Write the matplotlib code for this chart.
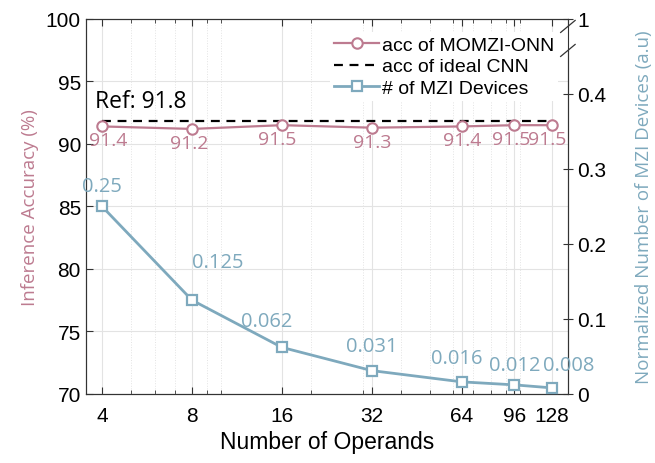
import matplotlib
matplotlib.use("Agg")
import matplotlib.pyplot as plt
import numpy as np

plt.rcParams['font.family'] = ['Liberation Sans', 'DejaVu Sans']

# data
operands = [4, 8, 16, 32, 64, 96, 128]
acc_momzi = [91.4, 91.2, 91.5, 91.3, 91.4, 91.5, 91.5]
acc_ref = 91.8
mzi_devices = [0.25, 0.125, 0.062, 0.031, 0.016, 0.012, 0.008]
mzi_labels = ['0.25', '0.125', '0.062', '0.031', '0.016', '0.012', '0.008']

pink = '#bd7b90'
blue = '#7ea9bd'
lab_font = 'Open Sans'

fig = plt.figure(figsize=(6.55, 4.64), dpi=100)
ax = fig.add_axes([0.131, 0.149, 0.736, 0.808])
ax2 = ax.twinx()

ax.set_xscale('log', base=2)
ax.set_xlim(3.53, 145)
ax.set_ylim(70, 100)
ax2.set_ylim(0, 0.5)

ax.set_xticks(operands)
ax.set_xticklabels([str(o) for o in operands])
ax.set_xticks([5, 6, 7, 9, 10, 20, 30, 40, 50, 60, 70, 80, 90, 100], minor=True)
ax.xaxis.set_minor_formatter(matplotlib.ticker.NullFormatter())
ax.set_yticks(np.arange(70, 101, 5))
ax2.set_yticks([0, 0.1, 0.2, 0.3, 0.4, 0.5])
ax2.set_yticklabels(['0', '0.1', '0.2', '0.3', '0.4', '1'])

ax.grid(True, which='major', color='#e3e3e3', lw=0.8)
ax.grid(True, which='minor', axis='x', color='#e3e3e3', lw=0.7, ls=':')
ax.set_axisbelow(True)

ax.tick_params(which='both', direction='in', top=True, labelsize=15, color='#333333')
ax.tick_params(which='major', length=5)
ax.tick_params(axis='x', pad=9)
ax.tick_params(which='minor', length=3)
ax2.tick_params(direction='inout', length=7, labelsize=15, color='#333333')
for s in ax.spines.values():
    s.set_color('#333333')
for s in ax2.spines.values():
    s.set_color('#333333')

# broken right axis
ax2.spines['right'].set_bounds(0, 0.458)
ax2.plot([1, 1], [0.49, 0.5], transform=ax2.get_yaxis_transform(), color='#333333', lw=0.8, clip_on=False)
for yb in [0.458, 0.49]:
    ax2.plot([0.985, 1.015], [yb - 0.008, yb + 0.008], transform=ax2.get_yaxis_transform(),
             color='#333333', lw=0.9, clip_on=False)

# lines
l1, = ax.plot(operands, acc_momzi, '-o', color=pink, lw=1.6, ms=7.5, mfc='white', mew=1.5,
              label='acc of MOMZI-ONN', zorder=5)
l2, = ax.plot([operands[0], operands[-1]], [acc_ref, acc_ref], '--', color='black', lw=1.6,
              dashes=(4, 3), label='acc of ideal CNN', zorder=4)
l3, = ax2.plot(operands, mzi_devices, '-s', color=blue, lw=2.0, ms=6.5, mfc='white', mew=1.6,
               label='# of MZI Devices', zorder=5)

acc_offsets = [4.3, -2.2, -3.6, 0, 0, -2.6, -3.6]
for x, y, dx in zip(operands, acc_momzi, acc_offsets):
    ax.annotate(f'{y}', (x, y), xytext=(dx, -10), textcoords='offset points', ha='center',
                va='center', color=pink, fontsize=14, family=lab_font, zorder=6)

mzi_offsets = [(0, 14.4), (18.7, 27.4), (-10.8, 18.7), (0, 18), (-3.6, 17.3), (0, 14.4), (12.2, 16.6)]
for x, y, t, off in zip(operands, mzi_devices, mzi_labels, mzi_offsets):
    ax2.annotate(t, (x, y), xytext=off, textcoords='offset points', ha='center',
                 va='center', color=blue, fontsize=14.5, family=lab_font)

ax.text(3.8, 93.4, 'Ref: 91.8', fontsize=16.5, family=lab_font, va='center', ha='left')

ax.set_xlabel('Number of Operands', fontsize=16.5, labelpad=3)
ax.set_ylabel('Inference Accuracy (%)', fontsize=13.5, color=pink, family=lab_font, labelpad=5)
ax2.set_ylabel('Normalized Number of MZI Devices (a.u)', fontsize=13.5, color=blue,
               family=lab_font, labelpad=20)

leg = ax2.legend(handles=[l1, l2, l3], loc='upper right', bbox_to_anchor=(1.0, 0.99),
                 fontsize=14, frameon=True, framealpha=1, edgecolor='none',
                 handlelength=2.3, handletextpad=0.15, borderpad=0.2, labelspacing=0.2)
leg.get_frame().set_linewidth(0)

fig.savefig('out.png', dpi=100)
